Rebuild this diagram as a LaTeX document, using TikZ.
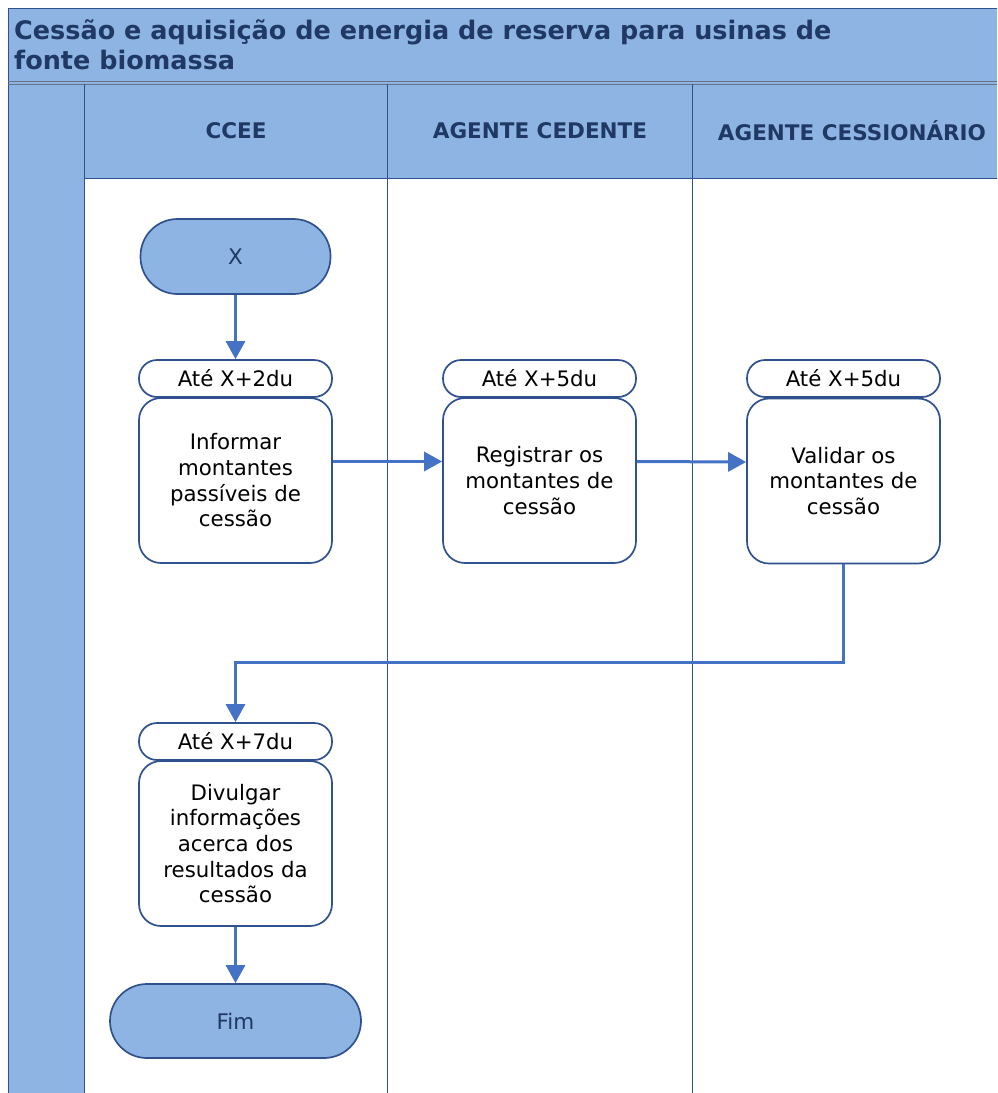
\documentclass[tikz,border=0pt]{standalone}
\usepackage{fontspec}
\setmainfont{DejaVu Sans}
\usetikzlibrary{arrows.meta,calc}
\definecolor{lane}{HTML}{8EB4E3}
\definecolor{edge}{HTML}{2F528F}
\definecolor{conn}{HTML}{4472C4}
\definecolor{navy}{HTML}{1F3864}
\tikzset{
  pill/.style={draw=edge, line width=1.7pt, rounded corners=37pt, fill=lane, text=navy, font=\fontsize{21.5}{24}\selectfont},
  tag/.style={draw=edge, line width=1.7pt, rounded corners=18pt, fill=white, font=\fontsize{21.3}{24}\selectfont},
  task/.style={draw=edge, line width=1.7pt, rounded corners=22pt, fill=white, align=center, font=\fontsize{21.3}{25.7}\selectfont},
  flow/.style={draw=conn, line width=3pt, -{Triangle[length=18pt,width=19pt]}},
  lanehdr/.style={text=navy, font=\bfseries\fontsize{21.5}{24}\selectfont},
  laneline/.style={draw=edge, line width=0.9pt}
}
\begin{document}
\begin{tikzpicture}[x=1pt,y=-1pt]
\useasboundingbox (0,0) rectangle (997,1093);
% lanes background
\fill[lane] (8,8) rectangle (997,178);
\fill[lane] (8,178) rectangle (84,1093);
\draw[laneline] (997,8) -- (8,8) -- (8,1093);
\draw[draw=gray!70!edge, line width=0.9pt] (8,81) -- (997,81);
\draw[draw=gray!70!edge, line width=0.9pt] (8,84) -- (997,84);
\draw[laneline] (84,84) -- (84,1093);
\draw[laneline] (387,84) -- (387,1093);
\draw[laneline] (692,84) -- (692,1093);
\draw[laneline] (84,178) -- (997,178);
% title
\node[anchor=west, text=navy, font=\bfseries\fontsize{25.5}{30}\selectfont, align=left, inner sep=0pt] (title) at (14,45)
  {Cessão e aquisição de energia de reserva para usinas de\\fonte biomassa};
% lane headers
\node[lanehdr] (h1) at (236,131) {CCEE};
\node[lanehdr] (h2) at (540,131) {AGENTE CEDENTE};
\node[lanehdr] (h3) at (852,131) {AGENTE CESSIONÁRIO};
% start
\node[pill, minimum width=190pt, minimum height=75pt] (start) at (235.5,256.5) {X};
% tasks
\node[tag, minimum width=193pt, minimum height=37pt] (t1) at (235.5,378.5) {Até X+2du};
\node[task, minimum width=193pt, minimum height=165pt] (b1) at (235.5,480.5) {Informar\\montantes\\passíveis de\\cessão};
\node[tag, minimum width=193pt, minimum height=37pt] (t2) at (539.5,378.5) {Até X+5du};
\node[task, minimum width=193pt, minimum height=165pt] (b2) at (539.5,480.5) {Registrar os\\montantes de\\cessão};
\node[tag, minimum width=193pt, minimum height=37pt] (t3) at (843.5,378.5) {Até X+5du};
\node[task, minimum width=193pt, minimum height=165pt] (b3) at (843.5,481) {Validar os\\montantes de\\cessão};
\node[tag, minimum width=193pt, minimum height=37pt] (t4) at (235.5,741.5) {Até X+7du};
\node[task, minimum width=193pt, minimum height=165pt] (b4) at (235.5,843.5) {Divulgar\\informações\\acerca dos\\resultados da\\cessão};
\node[pill, minimum width=251pt, minimum height=74pt] (fim) at (235.5,1021) {Fim};
% connectors
\draw[flow] (start.south) -- (t1.north);
\draw[flow] ([yshift=19pt]b1.east) -- ([yshift=19pt]b2.west);
\draw[flow] ([yshift=19pt]b2.east) -- ([yshift=19pt]b3.west);
\draw[flow] (b3.south) -- ++(0,98) -| (t4.north);
\draw[flow] (b4.south) -- (fim.north);
\end{tikzpicture}
\end{document}
